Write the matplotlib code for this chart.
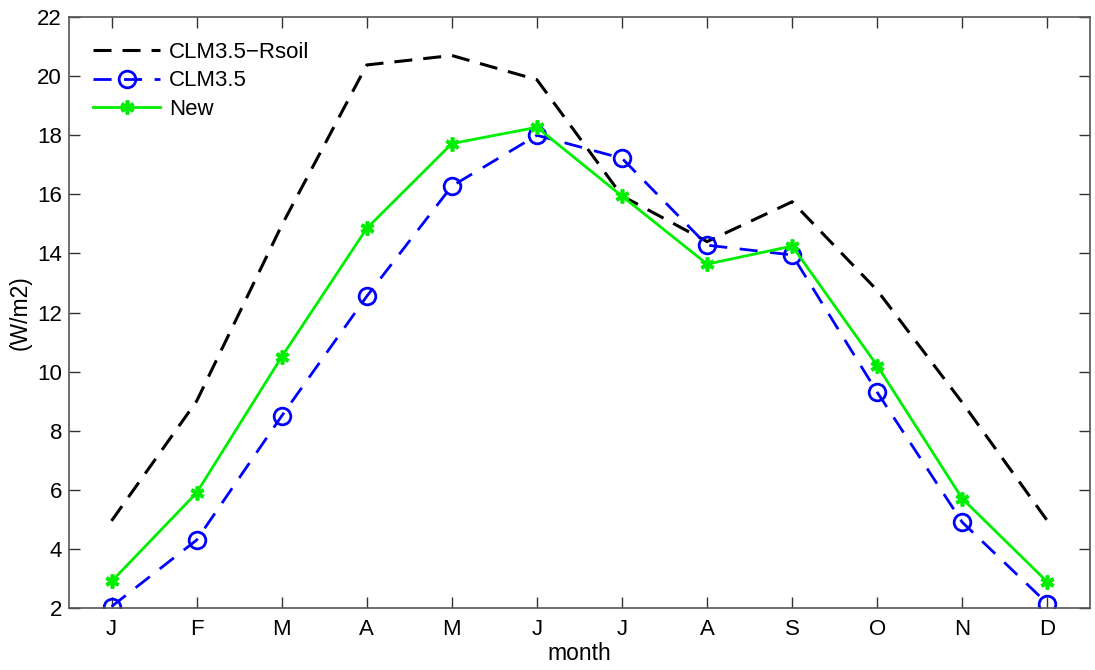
import matplotlib
matplotlib.use("Agg")
import matplotlib.pyplot as plt

plt.rcParams['font.family'] = ['Liberation Sans', 'DejaVu Sans']

months = ['J', 'F', 'M', 'A', 'M', 'J', 'J', 'A', 'S', 'O', 'N', 'D']
x = list(range(1, 13))

rsoil = [4.95, 9.0, 14.95, 20.38, 20.7, 19.88, 15.95, 14.4, 15.75, 12.75, 8.95, 4.95]
clm35 = [2.05, 4.3, 8.5, 12.55, 16.28, 18.0, 17.22, 14.28, 13.95, 9.3, 4.9, 2.15]
new = [2.9, 5.9, 10.5, 14.85, 17.72, 18.27, 15.94, 13.64, 14.25, 10.2, 5.7, 2.88]

fig = plt.figure(figsize=(10.95, 6.7), dpi=100)
ax = fig.add_axes([0.063, 0.0925, 0.9324, 0.882])

ax.plot(x, rsoil, color='black', linestyle='--', linewidth=2.2, dashes=(5.9, 3.6),
        label='CLM3.5\u2212Rsoil')
ax.plot(x, clm35, color='blue', linestyle='--', linewidth=2.0, dashes=(6.5, 4.5),
        marker='o', markersize=12, markerfacecolor='none', markeredgewidth=2.0,
        label='CLM3.5')
ax.plot(x, new, color='#00ee00', linestyle='-', linewidth=2.0,
        marker=(6, 2, 0), markersize=10, markeredgewidth=2.6,
        label='New')

ax.set_xlim(0.5, 12.5)
ax.set_ylim(2, 22)
ax.set_xticks(x)
ax.set_xticklabels(months)
ax.set_yticks(range(2, 23, 2))
ax.tick_params(direction='in', length=8, width=1, top=True, right=True,
               labelsize=16, color='#333333')
ax.tick_params(axis='x', pad=8)
ax.tick_params(axis='y', pad=5)
for s in ax.spines.values():
    s.set_color('#555555')
    s.set_linewidth(1.2)

ax.set_xlabel('month', fontsize=16.5, labelpad=1)
ax.set_ylabel('(W/m2)', fontsize=16.5, labelpad=4)

ax.legend(loc='upper left', frameon=False, fontsize=16, handlelength=3.0,
          handletextpad=0.4, labelspacing=0.35, borderaxespad=0.6,
          borderpad=0.5)

fig.savefig('out.png', dpi=100)
